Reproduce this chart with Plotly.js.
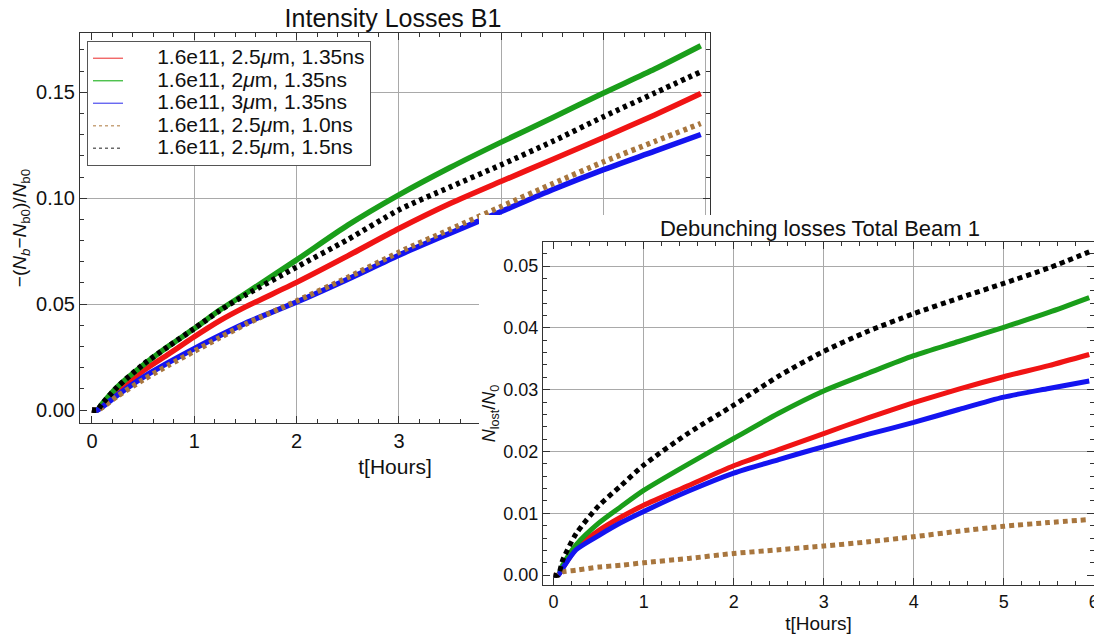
<!DOCTYPE html>
<html>
<head>
<meta charset="utf-8">
<script src="https://cdn.plot.ly/plotly-3.0.1.min.js"></script>
<style>
  body { margin: 0; background: #fff; }
  #main { position: absolute; left: 0; top: 0; width: 1094px; height: 634px; }
  #inset { position: absolute; left: 479px; top: 215px; width: 615px; height: 419px; }
</style>
</head>
<body>
<div id="main"></div>
<div id="inset"></div>
<script>
// ---------- Data: main plot "Intensity Losses B1" ----------
const T_MAIN = [0, 0.05, 0.1, 0.25, 0.5, 0.75, 1, 1.25, 1.5, 2, 2.5, 3, 3.5, 4, 4.5, 5, 5.5, 5.95];
const MAIN_RED   = [0, 0, 0.002, 0.0086, 0.0185, 0.0265, 0.0346, 0.0422, 0.0487, 0.0603, 0.0728, 0.0857, 0.0975, 0.108, 0.1183, 0.1287, 0.1393, 0.1494];
const MAIN_GREEN = [0, 0, 0.003, 0.011, 0.0212, 0.0302, 0.0385, 0.0472, 0.055, 0.0709, 0.0873, 0.1016, 0.1145, 0.1265, 0.138, 0.1497, 0.161, 0.172];
const MAIN_BLUE  = [0, 0, 0.0015, 0.0071, 0.0155, 0.0225, 0.029, 0.0352, 0.041, 0.051, 0.0618, 0.0731, 0.0835, 0.0937, 0.104, 0.1135, 0.1222, 0.1301];
const MAIN_BROWN = [0, 0, 0.0013, 0.0066, 0.0143, 0.0212, 0.0278, 0.0342, 0.0405, 0.0515, 0.0626, 0.0745, 0.0853, 0.0961, 0.1068, 0.1172, 0.1268, 0.1353];
const MAIN_BLACK = [0, 0, 0.003, 0.011, 0.0215, 0.0302, 0.0385, 0.047, 0.0543, 0.0675, 0.0805, 0.0945, 0.1053, 0.1158, 0.1268, 0.1385, 0.1497, 0.1597];

// ---------- Data: inset "Debunching losses Total Beam 1" ----------
const T_INSET = [0, 0.05, 0.1, 0.25, 0.5, 0.75, 1, 1.5, 2, 2.5, 3, 3.5, 4, 4.5, 5, 5.5, 5.95];
const INSET_RED   = [0, 0, 0.0011, 0.0043, 0.0072, 0.0094, 0.0113, 0.0145, 0.0177, 0.0203, 0.0229, 0.0255, 0.0279, 0.0301, 0.0321, 0.0339, 0.0357];
const INSET_GREEN = [0, 0, 0.0016, 0.0049, 0.0084, 0.0111, 0.0137, 0.018, 0.0221, 0.0262, 0.0298, 0.0327, 0.0355, 0.0378, 0.0401, 0.0425, 0.0449];
const INSET_BLUE  = [0, 0, 0.0011, 0.0041, 0.0064, 0.0085, 0.0103, 0.0136, 0.0165, 0.0187, 0.0208, 0.0228, 0.0247, 0.0268, 0.0288, 0.0302, 0.0314];
const INSET_BROWN = [0, 0, 0.0005, 0.0008, 0.0013, 0.0016, 0.002, 0.0027, 0.0035, 0.0041, 0.0047, 0.0054, 0.0062, 0.0071, 0.0079, 0.0085, 0.009];
const INSET_BLACK = [0, 0, 0.0024, 0.0067, 0.0112, 0.0145, 0.0178, 0.023, 0.0275, 0.0322, 0.0362, 0.0395, 0.0423, 0.0448, 0.0472, 0.0497, 0.0523];

// ---------- Labels ----------
const SERIES_NAMES = [
  '1.6e11, 2.5<i>μ</i>m, 1.35ns',
  '1.6e11, 2<i>μ</i>m, 1.35ns',
  '1.6e11, 3<i>μ</i>m, 1.35ns',
  '1.6e11, 2.5<i>μ</i>m, 1.0ns',
  '1.6e11, 2.5<i>μ</i>m, 1.5ns'
];
const MAIN_TITLE = 'Intensity Losses B1';
const INSET_TITLE = 'Debunching losses Total Beam 1';
const X_TITLE = 't[Hours]';
const MAIN_Y_TITLE = '−(<i>N</i><sub><i>b</i></sub>−<i>N</i><sub>b0</sub>)/<i>N</i><sub>b0</sub>';
const INSET_Y_TITLE = '<i>N</i><sub>lost</sub>/<i>N</i><sub>0</sub>';
const MAIN_X_TICKVALS = [0, 1, 2, 3, 4, 5, 6];
const MAIN_X_TICKTEXT = ['0', '1', '2', '3', '', '', ''];   // 4–6 are hidden behind the inset

// ---------- Styles ----------
const COLORS = ['#f01414', '#1a9e1a', '#1414f0', 'rgb(168,118,62)', '#000000'];
const LEGEND_COLORS = ['#f05a5a', '#3cbc3c', '#5a5af0', '#c8a47c', '#6a6a6a'];
const DASHES = ['solid', 'solid', 'solid', '4px,4px', '4px,4px'];
const FONT = 'Liberation Sans, Arial, sans-serif';
const GRID = '#a9a9a9';
const PAD = '\u00a0\u00a0\u00a0\u00a0\u00a0';

const mainSeries = [MAIN_RED, MAIN_GREEN, MAIN_BLUE, MAIN_BROWN, MAIN_BLACK];
const insetSeries = [INSET_RED, INSET_GREEN, INSET_BLUE, INSET_BROWN, INSET_BLACK];

const mainTraces = mainSeries.map((ys, i) => ({
  type: 'scatter', mode: 'lines', x: T_MAIN, y: ys, name: SERIES_NAMES[i],
  line: { color: COLORS[i], width: 5.5, dash: DASHES[i], shape: 'spline', smoothing: 0.7 },
  showlegend: false, hoverinfo: 'skip'
}));
const legendTraces = SERIES_NAMES.map((n, i) => ({
  type: 'scatter', mode: 'lines', x: [null], y: [null],
  name: '<span style="font-size:21px">' + PAD + n + '</span>',
  line: { color: LEGEND_COLORS[i], width: 1.3, dash: i >= 3 ? '3px,3px' : 'solid' },
  showlegend: true
}));

function axisCommon(extra) {
  return Object.assign({
    showline: true, linecolor: '#333', linewidth: 1, mirror: 'ticks',
    ticks: 'inside', ticklen: 7, tickwidth: 1, tickcolor: '#333',
    showgrid: true, gridcolor: GRID, gridwidth: 1,
    zeroline: true, zerolinecolor: 'rgba(0,0,0,0)',
    automargin: false, fixedrange: true, ticklabeloverflow: 'allow'
  }, extra);
}

const mainLayout = {
  width: 1094, height: 634,
  margin: { l: 80, r: 384, t: 33, b: 211 },
  paper_bgcolor: '#fff', plot_bgcolor: '#fff',
  font: { family: FONT, color: '#111' },
  title: { text: MAIN_TITLE, font: { size: 25, family: FONT, color: '#111' },
           x: 393 / 1094, xanchor: 'center', xref: 'container', y: 1 - 18 / 634, yanchor: 'middle' },
  xaxis: axisCommon({
    range: [-0.117, 6.04], tickmode: 'array', tickvals: MAIN_X_TICKVALS, ticktext: MAIN_X_TICKTEXT,
    tickfont: { size: 20, family: FONT, color: '#111' },
    minor: { ticks: 'inside', ticklen: 4, dtick: 0.2, tick0: 0, tickcolor: '#333', showgrid: false },
    title: { text: X_TITLE, font: { size: 21, family: FONT, color: '#111' }, standoff: 8 }
  }),
  yaxis: axisCommon({
    range: [-0.0061, 0.178], dtick: 0.05, tick0: 0, tickformat: '.2f',
    tickfont: { size: 20, family: FONT, color: '#111' },
    minor: { ticks: 'inside', ticklen: 4, dtick: 0.01, tick0: 0, tickcolor: '#333', showgrid: false },
    title: { text: MAIN_Y_TITLE, font: { size: 19, family: FONT, color: '#111' }, standoff: 4 }
  }),
  legend: {
    x: (87 - 80) / 630, y: (423 - 41) / 390, xanchor: 'left', yanchor: 'top',
    bgcolor: '#fff', bordercolor: '#555', borderwidth: 1,
    font: { size: 15, family: FONT, color: '#111' }, tracegroupgap: 0
  },
  showlegend: true
};

const insetTraces = insetSeries.map((ys, i) => ({
  type: 'scatter', mode: 'lines', x: T_INSET, y: ys, name: SERIES_NAMES[i],
  line: { color: COLORS[i], width: 5, dash: i >= 3 ? '5px,4px' : 'solid', shape: 'spline', smoothing: 0.7 },
  showlegend: false, hoverinfo: 'skip'
}));

const insetLayout = {
  width: 615, height: 419,
  margin: { l: 64, r: 0, t: 27, b: 49 },
  paper_bgcolor: '#fff', plot_bgcolor: '#fff',
  font: { family: FONT, color: '#111' },
  showlegend: false,
  title: { text: INSET_TITLE, font: { size: 22, family: FONT, color: '#111' },
           x: 341 / 615, xanchor: 'center', xref: 'container', y: 1 - 13 / 419, yanchor: 'middle' },
  xaxis: axisCommon({
    range: [-0.118, 6.003], dtick: 1, tick0: 0,
    tickfont: { size: 18, family: FONT, color: '#111' },
    minor: { ticks: 'inside', ticklen: 4, dtick: 0.2, tick0: 0, tickcolor: '#333', showgrid: false },
    title: { text: X_TITLE, font: { size: 19, family: FONT, color: '#111' }, standoff: 6 }
  }),
  yaxis: axisCommon({
    range: [-0.0016, 0.0539], dtick: 0.01, tick0: 0, tickformat: '.2f',
    tickfont: { size: 18, family: FONT, color: '#111' },
    minor: { ticks: 'inside', ticklen: 4, dtick: 0.002, tick0: 0, tickcolor: '#333', showgrid: false },
    title: { text: INSET_Y_TITLE, font: { size: 18, family: FONT, color: '#111' }, standoff: 4 }
  })
};

Plotly.newPlot('main', mainTraces.concat(legendTraces), mainLayout, { staticPlot: true, displayModeBar: false });
Plotly.newPlot('inset', insetTraces, insetLayout, { staticPlot: true, displayModeBar: false });
</script>
</body>
</html>
